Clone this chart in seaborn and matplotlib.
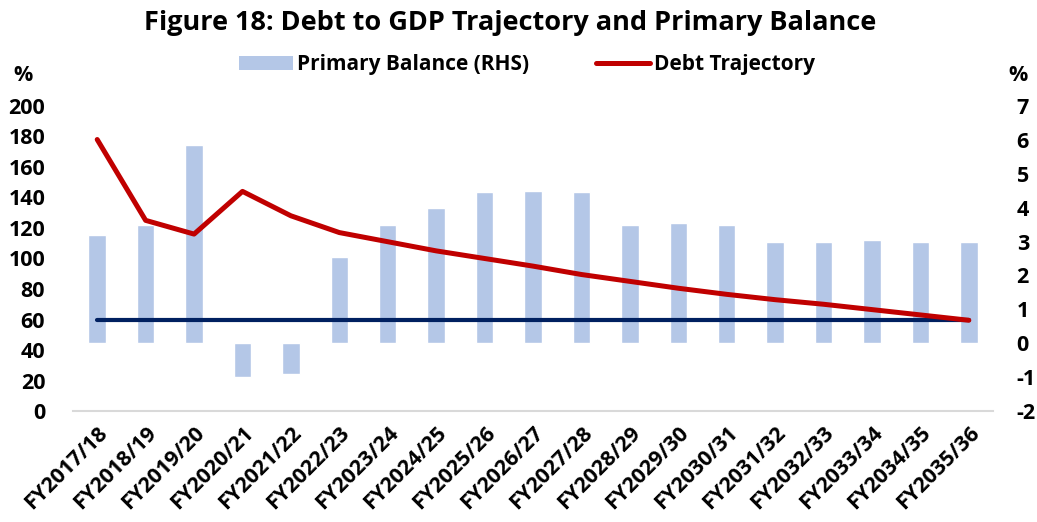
import numpy as np
import pandas as pd
import matplotlib
matplotlib.use("Agg")
import matplotlib.pyplot as plt
import seaborn as sns
from matplotlib.patches import Patch
from matplotlib.lines import Line2D

categories = ["FY2017/18", "FY2018/19", "FY2019/20", "FY2020/21", "FY2021/22",
              "FY2022/23", "FY2023/24", "FY2024/25", "FY2025/26", "FY2026/27",
              "FY2027/28", "FY2028/29", "FY2029/30", "FY2030/31", "FY2031/32",
              "FY2032/33", "FY2033/34", "FY2034/35", "FY2035/36"]
primary_balance = [3.2, 3.5, 5.85, -1.0, -0.9, 2.55, 3.5, 4.0, 4.45, 4.5,
                   4.45, 3.5, 3.55, 3.5, 3.0, 3.0, 3.05, 3.0, 3.0]
debt_trajectory = [178, 125, 116, 144, 128, 117, 111, 105, 100, 95,
                   89.5, 85, 80.5, 76.5, 73, 70, 66.5, 63, 59.5]
benchmark = [60] * len(categories)
left_ticks = list(range(0, 201, 20))
right_ticks = list(range(-2, 8))

sns.set_theme(style="white")
plt.rcParams['font.family'] = ['Open Sans', 'DejaVu Sans']
plt.rcParams['font.weight'] = 'bold'
plt.rcParams['axes.unicode_minus'] = False
plt.rcParams['text.color'] = 'black'
plt.rcParams['xtick.color'] = 'black'
plt.rcParams['ytick.color'] = 'black'

df = pd.DataFrame({"cat": categories, "pb": primary_balance,
                   "debt": debt_trajectory, "bench": benchmark,
                   "pos": np.arange(len(categories))})

fig = plt.figure(figsize=(10.37, 5.22), dpi=100)
ax = fig.add_axes([0.0704, 0.2126, 0.8872, 0.5844])
ax2 = ax.twinx()

sns.barplot(data=df, x="pos", y="pb", ax=ax2, color="#B4C7E7", width=0.36,
            saturation=1, native_scale=True)
sns.lineplot(data=df, x="pos", y="bench", ax=ax, color="#002060", linewidth=3.0,
             solid_capstyle="round")
sns.lineplot(data=df, x="pos", y="debt", ax=ax, color="#C00000", linewidth=3.6,
             solid_capstyle="round")

ax.set_zorder(ax2.get_zorder() + 1)
ax.patch.set_visible(False)

ax.set_xlim(-0.5, len(categories) - 0.5)
ax.set_ylim(0, 200)
ax2.set_ylim(-2, 7)
ax.set_yticks(left_ticks)
ax2.set_yticks(right_ticks)
ax.set_xticks(np.arange(len(categories)))
ax.set_xticklabels(categories, rotation=45, ha="right", rotation_mode="anchor",
                   fontsize=15.5, fontweight="bold", color="black")
ax.tick_params(axis="x", length=0, pad=8, colors="black")
ax.tick_params(axis="y", length=0, pad=20, labelsize=15.5, colors="black")
ax2.tick_params(axis="y", length=0, pad=17, labelsize=15.5, colors="black")
for lab in ax.get_yticklabels() + ax2.get_yticklabels():
    lab.set_fontweight("bold")
ax.set_xlabel("")
ax.set_ylabel("")
ax2.set_ylabel("")
ax2.set_xlabel("")

for a in (ax, ax2):
    for s in a.spines.values():
        s.set_visible(False)
ax.spines["bottom"].set_visible(True)
ax.spines["bottom"].set_color("#D9D9D9")
ax.spines["bottom"].set_linewidth(1.5)

fig.text(0.492, 0.955, "Figure 18: Debt to GDP Trajectory and Primary Balance",
         ha="center", va="center", fontsize=19.5, fontweight="bold", color="black")
fig.text(0.022, 0.855, "%", ha="center", va="center", fontsize=15.5, fontweight="bold")
fig.text(0.982, 0.855, "%", ha="center", va="center", fontsize=15.5, fontweight="bold")

handles = [Patch(facecolor="#B4C7E7", edgecolor="none"),
           Line2D([0], [0], color="#C00000", linewidth=3.6, solid_capstyle="round")]
fig.legend(handles, ["Primary Balance (RHS)", "Debt Trajectory"], ncol=2,
           loc="center", bbox_to_anchor=(0.508, 0.876), frameon=False,
           prop={"weight": "bold", "size": 15}, handlelength=2.6,
           handletextpad=0.2, columnspacing=3.2, handleheight=0.7,
           labelcolor="black")

fig.savefig("out.png", dpi=100)
